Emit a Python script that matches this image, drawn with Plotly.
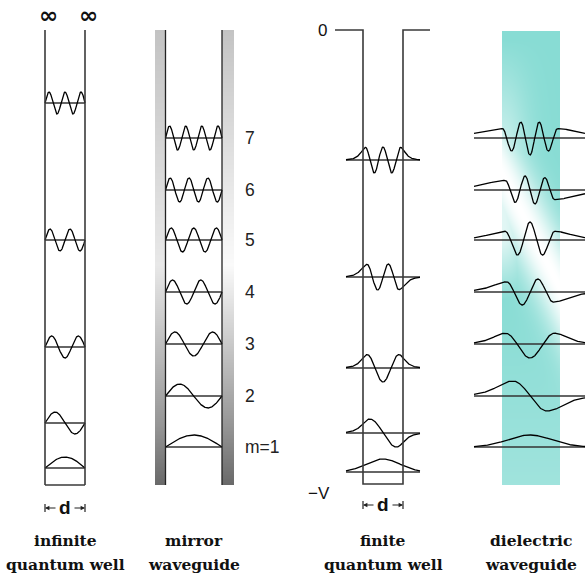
import numpy as np
import plotly.graph_objects as go

# ---- level data: height of each drawn level above the floor of its panel ----
infinite_n = [1, 2, 3, 4, 5]
infinite_levels = [17, 62, 138, 245, 382]

mirror_m = [1, 2, 3, 4, 5, 6, 7]
mirror_levels = [38, 89, 141, 193, 245, 295, 347]
mirror_labels = ["m=1", "2", "3", "4", "5", "6", "7"]

finite_n = [1, 2, 3, 4, 5]
finite_levels = [13, 52, 117, 208, 325]

dielectric_m = [1, 2, 3, 4, 5, 6, 7]
dielectric_levels = [38, 89, 141, 193, 245, 295, 347]

# bound-mode profiles: lobe half-span, envelope width, evanescent tail length, amplitude
finite_halfspan = [0, 14, 16, 16, 17.5]
finite_envelope = [24, 60, 80, 100, 100]
finite_tail = [0, 6, 5, 5, 4]
finite_amp = [13, 14, 14, 13, 13]

dielectric_halfspan = [0, 20, 26, 24, 26, 25, 28]
dielectric_envelope = [31, 45, 50, 45, 30, 40, 36]
dielectric_tail = [0, 12, 10, 12, 14, 18, 20]
dielectric_amp = [12, 15, 14, 13, 18, 14, 17]

titles = [("infinite", "quantum well"), ("mirror", "waveguide"),
          ("finite", "quantum well"), ("dielectric", "waveguide")]

# ---- panel geometry (axis units = screen pixels, y measured up from the floor) ----
TOP = 455
INF_L, INF_R = 45, 85
MIR_L, MIR_R = 165.5, 222
FIN_L, FIN_R = 363, 403
FIN_SPAN = (346, 420)
DIE_L, DIE_R = 502, 560
DIE_SPAN = (474, 585)

WAVE = dict(color="black", width=1.3)
BASE = dict(color="#333333", width=1.6)
WALL = dict(color="#3a3a3a", width=1.6)
SANS = "Liberation Sans, Arial, sans-serif"
SERIF = "DejaVu Serif"


def standing_wave(n, xl, xr, num=240):
    x = np.linspace(xl, xr, num)
    return x, np.sin(n * np.pi * (x - xl) / (xr - xl))


def guided_profile(m, x, center, halfspan, width, tail):
    u = x - center
    if m > 1 and halfspan > 0:
        s = 2 * halfspan / (m - 1)
        uc = np.clip(u, -halfspan, halfspan)
        carrier = np.cos(np.pi * (uc + halfspan) / s)
        env = np.exp(-(uc / width) ** 2)
    else:
        carrier = np.ones_like(u)
        env = np.exp(-(u / width) ** 2)
    if tail > 0:
        d = np.clip(np.abs(u) - halfspan, 0, None)
        env = env * np.exp(-(np.sqrt(d ** 2 + tail ** 2) - tail) / tail)
    psi = carrier * env
    return psi / np.max(np.abs(psi))


fig = go.Figure()

# ---- shaded mirrors ----
yy = np.arange(0.5, TOP, 1.0)
for (x0, x1), light in [((155, 165), 232), ((222, 234), 250)]:
    gray = np.interp(yy, [0, 60, 220, 455], [105, 150, light, 195])
    xs = np.arange(x0 + 0.5, x1, 1.0)
    fig.add_trace(go.Heatmap(
        x=xs, y=yy, z=np.tile(gray[:, None], (1, len(xs))),
        colorscale=[[0, "rgb(0,0,0)"], [1, "rgb(255,255,255)"]],
        zmin=0, zmax=255, showscale=False, hoverinfo="skip"))

# ---- dielectric slab with its diagonal sheen ----
xs = np.arange(DIE_L + 0.5, DIE_R, 1.0)
ys = np.arange(0.5, TOP - 1, 1.0)
XX, YY = np.meshgrid(xs, ys)
SY = 485 - YY
p0 = np.array([490.0, 150.0])
p1 = np.array([566.0, 300.0])
dvec = (p1 - p0) / np.linalg.norm(p1 - p0)
rel_x, rel_y = XX - p0[0], SY - p0[1]
dist = np.abs(rel_x * dvec[1] - rel_y * dvec[0])
band = np.exp(-(dist / 26.0) ** 2)
left_glow = 0.75 * np.exp(-((XX - DIE_L) / 26.0) ** 2) * np.clip((SY - 40) / 140, 0, 1) * np.clip((300 - SY) / 60, 0, 1)
lower = 0.2 * np.clip((SY - 300) / 185, 0, 1)
sheen = np.clip(np.maximum(band, left_glow) + lower, 0, 1)
fig.add_trace(go.Heatmap(
    x=xs, y=ys, z=sheen,
    colorscale=[[0, "rgb(136,220,212)"], [1, "rgb(255,255,255)"]],
    zmin=0, zmax=1, showscale=False, hoverinfo="skip"))

# ---- infinite quantum well ----
for n, lev in zip(infinite_n, infinite_levels):
    fig.add_trace(go.Scatter(x=[INF_L, INF_R], y=[lev, lev], mode="lines", line=BASE, hoverinfo="skip"))
    x, psi = standing_wave(n, INF_L, INF_R)
    fig.add_trace(go.Scatter(x=x, y=lev + 11 * psi, mode="lines", line=WAVE, hoverinfo="skip"))

# ---- mirror waveguide ----
for m, lev, lab in zip(mirror_m, mirror_levels, mirror_labels):
    fig.add_trace(go.Scatter(x=[MIR_L, MIR_R], y=[lev, lev], mode="lines", line=BASE, hoverinfo="skip"))
    x, psi = standing_wave(m, MIR_L, MIR_R)
    fig.add_trace(go.Scatter(x=x, y=lev + 12 * psi, mode="lines", line=WAVE, hoverinfo="skip"))
    fig.add_annotation(x=243, y=lev, text=lab, showarrow=False, xanchor="left", yanchor="middle",
                       font=dict(family=SANS, size=17.5, color="#222222"))

# ---- finite quantum well ----
xf = np.linspace(FIN_SPAN[0], FIN_SPAN[1], 400)
fc = (FIN_L + FIN_R) / 2
for i, (n, lev) in enumerate(zip(finite_n, finite_levels)):
    fig.add_trace(go.Scatter(x=list(FIN_SPAN), y=[lev, lev], mode="lines", line=BASE, hoverinfo="skip"))
    psi = guided_profile(n, xf, fc, finite_halfspan[i], finite_envelope[i], finite_tail[i])
    fig.add_trace(go.Scatter(x=xf, y=lev + finite_amp[i] * psi, mode="lines", line=WAVE, hoverinfo="skip"))

# ---- dielectric waveguide ----
xd = np.linspace(DIE_SPAN[0], DIE_SPAN[1], 500)
dc = 530
for i, (m, lev) in enumerate(zip(dielectric_m, dielectric_levels)):
    fig.add_trace(go.Scatter(x=list(DIE_SPAN), y=[lev, lev], mode="lines", line=BASE, hoverinfo="skip"))
    psi = guided_profile(m, xd, dc, dielectric_halfspan[i], dielectric_envelope[i], dielectric_tail[i])
    fig.add_trace(go.Scatter(x=xd, y=lev + dielectric_amp[i] * psi, mode="lines", line=WAVE, hoverinfo="skip"))

# ---- walls ----
shapes = [
    dict(type="line", x0=INF_L, x1=INF_L, y0=0, y1=TOP, line=WALL),
    dict(type="line", x0=INF_R, x1=INF_R, y0=0, y1=TOP, line=WALL),
    dict(type="line", x0=INF_L, x1=INF_R, y0=0, y1=0, line=WALL),
    dict(type="line", x0=MIR_L, x1=MIR_L, y0=0, y1=TOP, line=dict(color="#222", width=1.3)),
    dict(type="line", x0=MIR_R, x1=MIR_R, y0=0, y1=TOP, line=dict(color="#222", width=1.3)),
    dict(type="path", path=f"M 335 {TOP} L {FIN_L} {TOP} L {FIN_L} 1 L {FIN_R} 1 L {FIN_R} {TOP} L 430 {TOP}",
         line=WALL),
]
# dimension marks "d"
for (xl, xr, yv) in [(INF_L, INF_R, -23), (FIN_L, FIN_R, -20)]:
    for xv in (xl, xr):
        shapes.append(dict(type="line", x0=xv, x1=xv, y0=yv - 4, y1=yv + 4, line=dict(color="#222", width=1.2)))
    xm = (xl + xr) / 2
    for head, tail_x in ((xl, xm - 8), (xr, xm + 8)):
        fig.add_annotation(x=head, y=yv, ax=tail_x, ay=yv, xref="x", yref="y", axref="x", ayref="y",
                           showarrow=True, arrowhead=2, arrowsize=0.8, arrowwidth=1.1, arrowcolor="#222",
                           text="", standoff=0)
    fig.add_annotation(x=xm, y=yv + 1, text="<b>d</b>", showarrow=False,
                       font=dict(family=SANS, size=19, color="#111"))

# ---- labels ----
for xv in (48, 88):
    fig.add_annotation(x=xv, y=485, text="<b>∞</b>", showarrow=False, yanchor="top",
                       font=dict(family="DejaVu Sans", size=23, color="#111"))
fig.add_annotation(x=322, y=455, text="0", showarrow=False, font=dict(family=SANS, size=17, color="#111"))
fig.add_annotation(x=319, y=-8, text="−V", showarrow=False, font=dict(family=SANS, size=17, color="#111"))

for cx, (l1, l2) in zip([65, 194, 383, 531], titles):
    fig.add_annotation(x=cx, y=-55, text=f"<b>{l1}</b>", showarrow=False,
                       font=dict(family=SERIF, size=15.5, color="#111"))
    fig.add_annotation(x=cx, y=-79, text=f"<b>{l2}</b>", showarrow=False,
                       font=dict(family=SERIF, size=15.5, color="#111"))

fig.update_layout(
    width=585, height=577, margin=dict(l=0, r=0, t=0, b=0),
    paper_bgcolor="white", plot_bgcolor="white", showlegend=False,
    shapes=shapes,
    xaxis=dict(range=[0, 585], visible=False, fixedrange=True),
    yaxis=dict(range=[-92, 485], visible=False, fixedrange=True),
)
fig.write_html("out.html")
